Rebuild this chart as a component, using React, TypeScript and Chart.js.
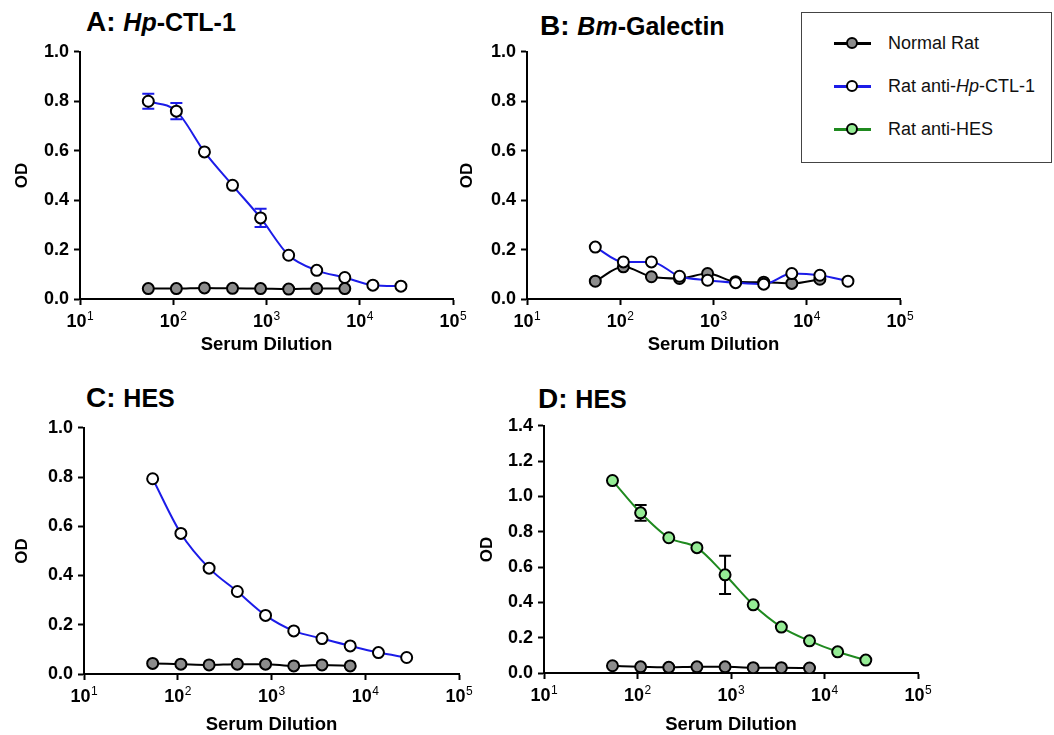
import React, { useEffect, useRef } from 'react';
import { Chart, registerables } from 'chart.js';

Chart.register(...registerables);

// ---------- data ----------
const dilutions = [54, 108, 216, 432, 864, 1728, 3456, 6912, 13824, 27648];
const xTickValues = [10, 100, 1000, 10000, 100000];
const xTickBase = '10';
const xTickExps = ['1', '2', '3', '4', '5'];
const yTicksOne = [0, 0.2, 0.4, 0.6, 0.8, 1.0];
const yTicksD = [0, 0.2, 0.4, 0.6, 0.8, 1.0, 1.2, 1.4];

const legendLabels = ['Normal Rat', 'Rat anti-Hp-CTL-1', 'Rat anti-HES'];

// Panel A: Hp-CTL-1
const aAntiCtl = [0.8, 0.76, 0.595, 0.46, 0.328, 0.177, 0.116, 0.087, 0.056, 0.052];
const aAntiCtlErr = [0.03, 0.033, 0, 0, 0.037, 0, 0, 0, 0, 0];
const aNormal = [0.042, 0.042, 0.045, 0.043, 0.042, 0.04, 0.042, 0.042];

// Panel B: Bm-Galectin
const bAntiCtl = [0.21, 0.15, 0.15, 0.092, 0.076, 0.066, 0.06, 0.103, 0.096, 0.072];
const bNormal = [0.072, 0.13, 0.09, 0.083, 0.103, 0.07, 0.068, 0.063, 0.08];

// Panel C: HES (anti-Hp-CTL-1)
const cAntiCtl = [0.793, 0.571, 0.43, 0.335, 0.238, 0.175, 0.144, 0.114, 0.087, 0.067];
const cNormal = [0.043, 0.04, 0.037, 0.04, 0.04, 0.033, 0.037, 0.033];

// Panel D: HES (anti-HES)
const dAntiHes = [1.09, 0.907, 0.766, 0.71, 0.556, 0.386, 0.26, 0.182, 0.12, 0.073];
const dAntiHesErr = [0, 0.045, 0, 0, 0.108, 0, 0, 0, 0, 0];
const dNormal = [0.041, 0.035, 0.032, 0.035, 0.035, 0.03, 0.03, 0.028];

// ---------- styles ----------
const FONT = "'Liberation Sans', Arial, Helvetica, sans-serif";
const BLUE = '#1c1ce8';
const GREEN = '#1f8a1f';
const GREEN_FILL = '#95ec95';
const GRAY_FILL = '#8c8c8c';
const TICK_SIZE = 18;
const EXP_SIZE = 12;
const LABEL_OFFSET = -3.5;
const TICK_PAD = 6;

const toPoints = (vals: number[]) => vals.map((y, i) => ({ x: dilutions[i], y }));

const baseSet = {
  borderWidth: 2,
  pointBorderColor: '#000',
  pointBorderWidth: 2,
  pointRadius: 5.5,
  cubicInterpolationMode: 'monotone',
};

const normalSet = (vals: number[]) => ({
  ...baseSet,
  label: legendLabels[0],
  data: toPoints(vals),
  borderColor: '#000',
  pointBackgroundColor: GRAY_FILL,
});

const antiCtlSet = (vals: number[], errs?: number[]) => ({
  ...baseSet,
  label: legendLabels[1],
  data: toPoints(vals),
  errors: errs,
  errorColor: BLUE,
  borderColor: BLUE,
  pointBackgroundColor: '#fff',
});

const antiHesSet = (vals: number[], errs?: number[]) => ({
  ...baseSet,
  label: legendLabels[2],
  data: toPoints(vals),
  errors: errs,
  errorColor: '#000',
  borderColor: GREEN,
  pointBackgroundColor: GREEN_FILL,
});

const errorBarPlugin = {
  id: 'errorBars',
  beforeDatasetsDraw(chart: any) {
    const ctx = chart.ctx;
    const xs = chart.scales.x;
    const ys = chart.scales.y;
    chart.data.datasets.forEach((ds: any) => {
      if (!ds.errors) return;
      ctx.save();
      ctx.strokeStyle = ds.errorColor || '#000';
      ctx.lineWidth = 2;
      ds.data.forEach((p: any, i: number) => {
        const e = ds.errors[i];
        if (!e) return;
        const px = xs.getPixelForValue(p.x);
        const top = ys.getPixelForValue(p.y + e);
        const bot = ys.getPixelForValue(p.y - e);
        ctx.beginPath();
        ctx.moveTo(px, top);
        ctx.lineTo(px, bot);
        ctx.moveTo(px - 6, top);
        ctx.lineTo(px + 6, top);
        ctx.moveTo(px - 6, bot);
        ctx.lineTo(px + 6, bot);
        ctx.stroke();
      });
      ctx.restore();
    });
  },
};

// draws the superscript exponent next to each "10" tick label of the log axis
const exponentPlugin = {
  id: 'exponents',
  afterDraw(chart: any) {
    const xs = chart.scales.x;
    const ctx = chart.ctx;
    ctx.save();
    ctx.font = `bold ${TICK_SIZE}px ${FONT}`;
    const baseW = ctx.measureText(xTickBase).width;
    ctx.font = `${EXP_SIZE}px ${FONT}`;
    ctx.fillStyle = '#000';
    ctx.textAlign = 'left';
    ctx.textBaseline = 'middle';
    const labelTop = xs.top + 6 + TICK_PAD;
    xTickValues.forEach((v, i) => {
      const px = xs.getPixelForValue(v) + LABEL_OFFSET;
      ctx.fillText(xTickExps[i], px + baseW / 2 + 0.5, labelTop + 5.5);
    });
    ctx.restore();
  },
};

type PanelCfg = {
  canvasLeft: number;
  canvasBottom: number;
  L: number; T: number; R: number; B: number;
  odX: number;
  xTitleY: number;
  yMax: number;
  yTicks: number[];
  datasets: any[];
};

const TICK_FONT = { family: FONT, size: TICK_SIZE, weight: 'bold' as const, lineHeight: 1.2 };
const TITLE_FONT = { family: FONT, size: 18.5, weight: 'bold' as const, lineHeight: 1.2 };

function Panel({ cfg }: { cfg: PanelCfg }) {
  const ref = useRef<HTMLCanvasElement | null>(null);
  const top = cfg.T - 14;
  const right = cfg.R + 28;
  const width = right - cfg.canvasLeft;
  const height = cfg.canvasBottom - top;
  useEffect(() => {
    if (!ref.current) return;
    const yw = cfg.L - cfg.canvasLeft;
    const xh = cfg.canvasBottom - cfg.B;
    const chart = new Chart(ref.current, {
      type: 'line',
      data: { datasets: cfg.datasets },
      plugins: [errorBarPlugin, exponentPlugin],
      options: {
        responsive: false,
        animation: false,
        devicePixelRatio: 1,
        layout: { padding: { left: 0, top: cfg.T - top, right: right - cfg.R, bottom: 0 } },
        plugins: { legend: { display: false }, tooltip: { enabled: false }, title: { display: false } },
        scales: {
          x: {
            type: 'logarithmic',
            min: 10,
            max: 100000,
            afterBuildTicks: (s: any) => {
              s.ticks = xTickValues.map((v) => ({ value: v, major: true }));
            },
            afterFit: (s: any) => {
              s.height = xh;
            },
            ticks: {
              autoSkip: false,
              maxRotation: 0,
              color: '#000',
              padding: TICK_PAD,
              labelOffset: LABEL_OFFSET,
              font: TICK_FONT,
              callback: () => xTickBase,
            },
            grid: { drawOnChartArea: false, drawTicks: true, tickLength: 6, tickWidth: 2, color: '#000' },
            border: { display: true, color: '#000', width: 2 },
            title: {
              display: true,
              text: 'Serum Dilution',
              color: '#000',
              font: TITLE_FONT,
              padding: { top: 0, bottom: cfg.canvasBottom - cfg.xTitleY - 11.1 },
            },
          },
          y: {
            type: 'linear',
            min: 0,
            max: cfg.yMax,
            afterBuildTicks: (s: any) => {
              s.ticks = cfg.yTicks.map((v) => ({ value: v }));
            },
            afterFit: (s: any) => {
              s.width = yw;
            },
            ticks: {
              color: '#000',
              padding: 5,
              font: TICK_FONT,
              callback: (v: any) => Number(v).toFixed(1),
            },
            grid: { drawOnChartArea: false, drawTicks: true, tickLength: 6, tickWidth: 2, color: '#000' },
            border: { display: true, color: '#000', width: 2 },
            title: {
              display: true,
              text: 'OD',
              color: '#000',
              font: { family: FONT, size: 17, weight: 'bold' as const, lineHeight: 1.2 },
              padding: { top: Math.max(0, cfg.odX - cfg.canvasLeft - 10.2), bottom: 0 },
            },
          },
        },
      } as any,
    });
    return () => chart.destroy();
  }, []);
  return (
    <canvas
      ref={ref}
      width={width}
      height={height}
      style={{ position: 'absolute', left: cfg.canvasLeft, top, width, height }}
    />
  );
}

const panels: PanelCfg[] = [
  {
    canvasLeft: 0, canvasBottom: 372, L: 80, T: 50, R: 453, B: 299, odX: 22, xTitleY: 345,
    yMax: 1.0, yTicks: yTicksOne,
    datasets: [antiCtlSet(aAntiCtl, aAntiCtlErr), normalSet(aNormal)],
  },
  {
    canvasLeft: 440, canvasBottom: 372, L: 527, T: 50, R: 900, B: 299, odX: 467, xTitleY: 345,
    yMax: 1.0, yTicks: yTicksOne,
    datasets: [antiCtlSet(bAntiCtl), normalSet(bNormal)],
  },
  {
    canvasLeft: 0, canvasBottom: 735, L: 84, T: 426, R: 459, B: 674, odX: 22, xTitleY: 725,
    yMax: 1.0, yTicks: yTicksOne,
    datasets: [antiCtlSet(cAntiCtl), normalSet(cNormal)],
  },
  {
    canvasLeft: 460, canvasBottom: 735, L: 544, T: 424, R: 918, B: 673, odX: 487, xTitleY: 725,
    yMax: 1.4, yTicks: yTicksD,
    datasets: [antiHesSet(dAntiHes, dAntiHesErr), normalSet(dNormal)],
  },
];

const TITLE_BIG = 28;
const TITLE_SMALL = 25;
const TITLE_LH = 34;

function Title({ left, baseline, letter, children }: any) {
  const topOff = (TITLE_LH - 1.117 * TITLE_BIG) / 2 + 0.905 * TITLE_BIG;
  return (
    <div
      style={{
        position: 'absolute',
        left,
        top: baseline - topOff,
        fontFamily: FONT,
        fontWeight: 'bold',
        fontSize: TITLE_BIG,
        lineHeight: `${TITLE_LH}px`,
        whiteSpace: 'nowrap',
        color: '#000',
      }}
    >
      {letter}: <span style={{ fontSize: TITLE_SMALL }}>{children}</span>
    </div>
  );
}

function LegendRow({ y, line, fill, children }: any) {
  return (
    <>
      <div style={{ position: 'absolute', left: 32, top: y - 1, width: 37, height: 2.5, background: line }} />
      <div
        style={{
          position: 'absolute',
          left: 44,
          top: y - 6,
          width: 8,
          height: 8,
          borderRadius: '50%',
          border: '2px solid #000',
          background: fill,
        }}
      />
      <div
        style={{
          position: 'absolute',
          left: 86,
          top: y - 11,
          height: 22,
          lineHeight: '22px',
          fontFamily: FONT,
          fontSize: 18,
          whiteSpace: 'nowrap',
          color: '#111',
        }}
      >
        {children}
      </div>
    </>
  );
}

export default function App() {
  return (
    <div
      style={{
        position: 'fixed',
        left: 0,
        top: 0,
        width: 1054,
        height: 735,
        background: '#fff',
        overflow: 'hidden',
      }}
    >
      <Title left={86} baseline={32} letter="A">
        <i>Hp</i>-CTL-1
      </Title>
      <Title left={540} baseline={36} letter="B">
        <i>Bm</i>-Galectin
      </Title>
      <Title left={86} baseline={408} letter="C">
        HES
      </Title>
      <Title left={538} baseline={409} letter="D">
        HES
      </Title>
      {panels.map((p, i) => (
        <Panel key={i} cfg={p} />
      ))}
      <div
        style={{
          position: 'absolute',
          left: 801,
          top: 12,
          width: 249,
          height: 149,
          border: '1.5px solid #444',
          background: '#fff',
        }}
      >
        <LegendRow y={30} line="#000" fill={GRAY_FILL}>
          {legendLabels[0]}
        </LegendRow>
        <LegendRow y={73} line={BLUE} fill="#fff">
          Rat anti-<i>Hp</i>-CTL-1
        </LegendRow>
        <LegendRow y={116} line={GREEN} fill={GREEN_FILL}>
          {legendLabels[2]}
        </LegendRow>
      </div>
    </div>
  );
}
